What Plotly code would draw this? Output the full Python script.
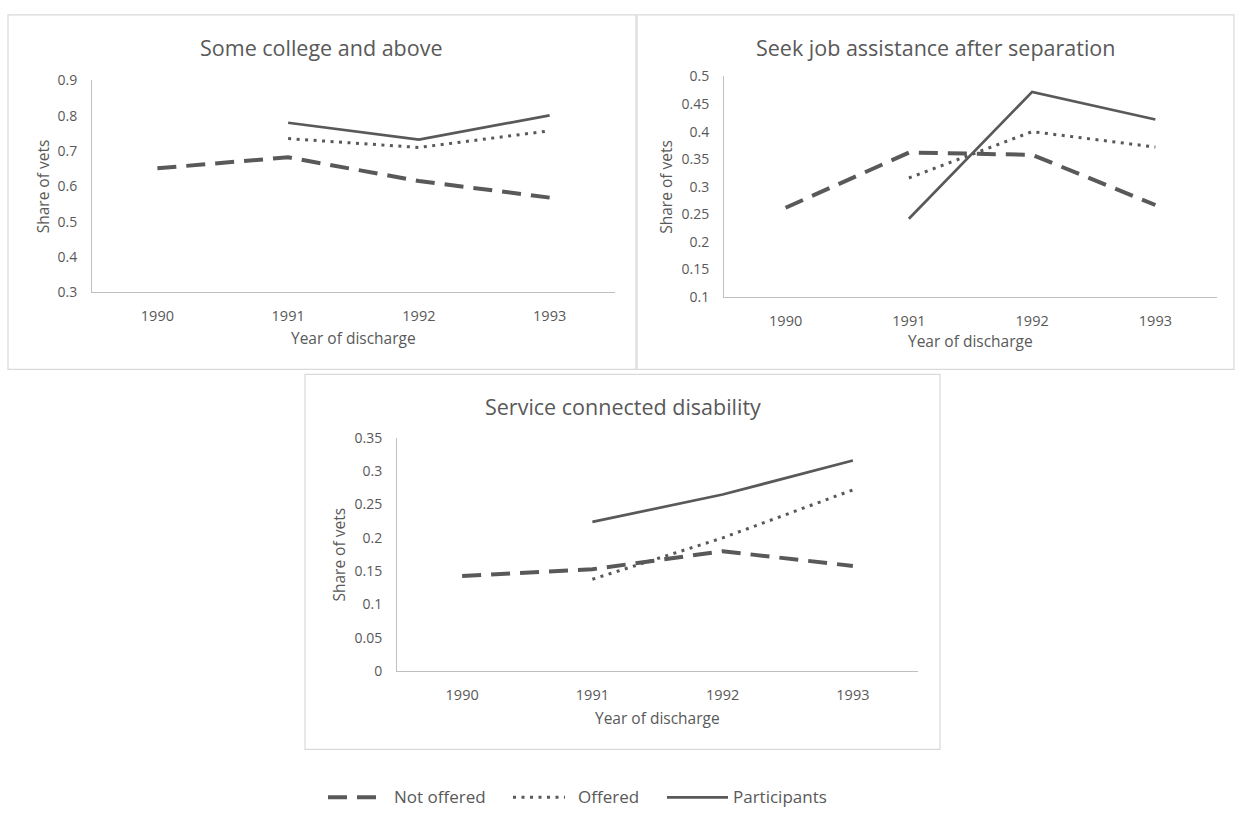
import plotly.graph_objects as go

# Discharge cohorts
years = ["1990", "1991", "1992", "1993"]

# Some college and above
college_not_offered = [0.651, 0.682, 0.615, 0.568]
college_offered = [None, 0.735, 0.710, 0.757]
college_participants = [None, 0.780, 0.732, 0.801]

# Seek job assistance after separation
jobhelp_not_offered = [0.262, 0.362, 0.358, 0.267]
jobhelp_offered = [None, 0.316, 0.400, 0.372]
jobhelp_participants = [None, 0.242, 0.472, 0.422]

# Service connected disability
disab_not_offered = [0.143, 0.153, 0.180, 0.158]
disab_offered = [None, 0.138, 0.200, 0.272]
disab_participants = [None, 0.224, 0.265, 0.316]

series_names = ["Not offered", "Offered", "Participants"]
panel_titles = ["Some college and above",
                "Seek job assistance after separation",
                "Service connected disability"]

W, H = 1235, 819
LINE = "#595959"
TEXT = "#595959"
AXIS = "#bfbfbf"
BORDER = "#d9d9d9"
FONT = "Open Sans"


def px_x(v):
    return v / W


def px_y(v):
    return 1 - v / H


styles = [
    dict(color=LINE, width=4, dash="19px,10px"),
    dict(color=LINE, width=3, dash="3px,5.5px"),
    dict(color=LINE, width=2.7, dash="solid"),
]

# plot box, outer frame, y range, and axis-title offsets (y title, x title)
panels = [
    dict(data=[college_not_offered, college_offered, college_participants],
         plot=(92, 615, 72, 289), box=(8, 636, 5, 368),
         yrange=[0.3, 0.9], dtick=0.1, ytitle_off=49, xtitle_off=47),
    dict(data=[jobhelp_not_offered, jobhelp_offered, jobhelp_participants],
         plot=(724, 1217, 68, 294), box=(637, 1234, 5, 368),
         yrange=[0.1, 0.5], dtick=0.05, ytitle_off=58, xtitle_off=45),
    dict(data=[disab_not_offered, disab_offered, disab_participants],
         plot=(397, 918, 438, 677), box=(305, 940, 373, 757),
         yrange=[0.0, 0.35], dtick=0.05, ytitle_off=58, xtitle_off=48),
]

fig = go.Figure()
layout = dict(
    width=W, height=H,
    margin=dict(l=0, r=0, t=0, b=0),
    paper_bgcolor="white", plot_bgcolor="white",
    font=dict(family=FONT, color=TEXT, size=14),
    showlegend=False,
)
shapes = []
annotations = []

for i, p in enumerate(panels):
    n = i + 1
    xa = "x" if n == 1 else f"x{n}"
    ya = "y" if n == 1 else f"y{n}"
    x0, x1, y0, y1 = p["plot"]
    for j, vals in enumerate(p["data"]):
        fig.add_trace(go.Scatter(
            x=years, y=vals, mode="lines", name=series_names[j],
            line=styles[j], connectgaps=False,
            xaxis=xa, yaxis=ya, hoverinfo="skip",
        ))
    layout[f"xaxis{'' if n == 1 else n}"] = dict(
        domain=[px_x(x0), px_x(x1)], anchor=ya, type="category",
        range=[-0.5, 3.5], showgrid=False, zeroline=False,
        showline=True, linecolor=AXIS, linewidth=1, ticks="",
        ticklabelstandoff=10,
        tickfont=dict(size=14.5, color=TEXT), fixedrange=True,
    )
    layout[f"yaxis{'' if n == 1 else n}"] = dict(
        domain=[px_y(y1), px_y(y0)], anchor=xa,
        range=p["yrange"], dtick=p["dtick"], tick0=0,
        showgrid=False, zeroline=False,
        showline=True, linecolor=AXIS, linewidth=1, ticks="",
        ticklabelstandoff=11,
        tickfont=dict(size=14, color=TEXT), fixedrange=True,
    )
    bx0, bx1, by0, by1 = p["box"]
    shapes.append(dict(type="rect", xref="paper", yref="paper",
                       x0=px_x(bx0), x1=px_x(bx1), y0=px_y(by1), y1=px_y(by0),
                       line=dict(color=BORDER, width=1.2), layer="below"))
    # panel title
    annotations.append(dict(text=panel_titles[i], xref="paper", yref="paper",
                            x=px_x((bx0 + bx1) / 2), y=px_y(by0 + 33),
                            xanchor="center", yanchor="middle", showarrow=False,
                            font=dict(size=21.5, color=TEXT, family=FONT)))
    # axis titles
    annotations.append(dict(text="Year of discharge", xref="paper", yref="paper",
                            x=px_x((x0 + x1) / 2), y=px_y(y1 + p["xtitle_off"]),
                            xanchor="center", yanchor="middle", showarrow=False,
                            font=dict(size=15.5, color=TEXT, family=FONT)))
    annotations.append(dict(text="Share of vets", xref="paper", yref="paper",
                            x=px_x(x0 - p["ytitle_off"]), y=px_y((y0 + y1) / 2),
                            xanchor="center", yanchor="middle", showarrow=False,
                            textangle=-90,
                            font=dict(size=15.5, color=TEXT, family=FONT)))

# shared legend along the bottom: line sample followed by its label
legend_y = 806
legend_items = [(328, 380, 392), (513, 565, 576), (667, 728, 731)]
for j, (sx0, sx1, tx) in enumerate(legend_items):
    shapes.append(dict(type="line", xref="paper", yref="paper",
                       x0=px_x(sx0), x1=px_x(sx1),
                       y0=px_y(legend_y), y1=px_y(legend_y),
                       line=styles[j]))
    annotations.append(dict(text=series_names[j], xref="paper", yref="paper",
                            x=px_x(tx), y=px_y(legend_y - 1),
                            xanchor="left", yanchor="middle", showarrow=False,
                            font=dict(size=17, color=TEXT, family=FONT)))

layout["shapes"] = shapes
layout["annotations"] = annotations
fig.update_layout(**layout)
fig.write_html("out.html")
